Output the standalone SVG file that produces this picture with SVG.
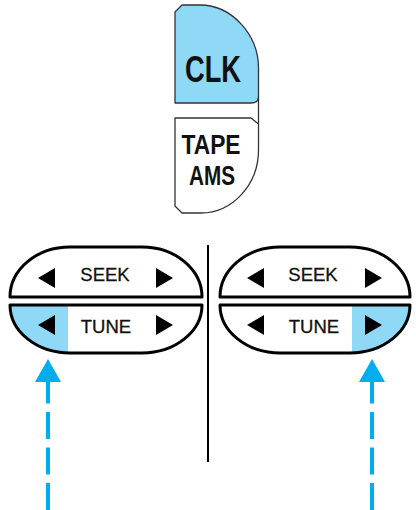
<svg xmlns="http://www.w3.org/2000/svg" width="416" height="510" viewBox="0 0 416 510">
  <style>
    .btn { stroke: #333; stroke-width: 1.3; stroke-linejoin: round; }
    .big { font-family: "Liberation Sans", Arial, sans-serif; font-weight: bold; fill: #111; text-anchor: middle; }
    .lbl { font-family: "Liberation Sans", Arial, sans-serif; font-size: 18.5px; fill: #111; text-anchor: middle; stroke: #111; stroke-width: 0.3; }
    .pan { fill: none; stroke: #000; stroke-width: 3; stroke-linejoin: round; }
    .tri { fill: #000; }
    .blue { fill: #8fd9f6; }
    .dash { stroke: #00aeef; stroke-width: 4; fill: none; stroke-dasharray: 27 8.5; }
  </style>
  <defs>
    <marker id="ah" viewBox="0 0 23 26" refX="0" refY="13" markerWidth="23" markerHeight="26" markerUnits="userSpaceOnUse" orient="auto">
      <path d="M0,0 L23,13 L0,26 Z" fill="#00aeef"/>
    </marker>
    <clipPath id="clipL">
      <path d="M10,305 L202,305 A60 48 0 0 1 142,353 L70,353 A60 48 0 0 1 10,305 Z"/>
    </clipPath>
    <clipPath id="clipR">
      <path d="M220,305 L410,305 A60 48 0 0 1 350,353 L280,353 A60 48 0 0 1 220,305 Z"/>
    </clipPath>
  </defs>

  <g id="clk">
    <path class="btn" fill="#8fd9f6" d="M175,12 L182,5 L200,5 C232,5 258.5,35 258.5,68 L258.5,97 Q258.5,103 251,103 L175,103 Z"/>
    <text class="big" x="213" y="82" font-size="37" textLength="56" lengthAdjust="spacingAndGlyphs">CLK</text>
  </g>
  <line x1="258.5" y1="97" x2="258.5" y2="124" stroke="#333" stroke-width="1.3"/>
  <g id="tape-ams">
    <path class="btn" fill="#fff" d="M175,118 L251,118 L258.5,124 L258.5,150 C258.5,185 232,213 201,213 L182,213 L175,206 Z"/>
    <text class="big" x="211" y="154" font-size="27" textLength="59" lengthAdjust="spacingAndGlyphs">TAPE</text>
    <text class="big" x="212" y="185" font-size="27" textLength="46" lengthAdjust="spacingAndGlyphs">AMS</text>
  </g>

  <g id="left-panel">
    <path d="M10,297 A60 50 0 0 1 70,247 L142,247 A60 50 0 0 1 202,297 Z" fill="#fff"/>
    <path d="M10,305 L202,305 A60 48 0 0 1 142,353 L70,353 A60 48 0 0 1 10,305 Z" fill="#fff"/>
    <rect class="blue" x="0" y="300" width="68" height="60" clip-path="url(#clipL)"/>
    <path class="pan" d="M10,297 A60 50 0 0 1 70,247 L142,247 A60 50 0 0 1 202,297 Z"/>
    <path class="pan" d="M10,305 L202,305 A60 48 0 0 1 142,353 L70,353 A60 48 0 0 1 10,305 Z"/>
    <polygon class="tri" points="38,278 55,268 55,288"/>
    <polygon class="tri" points="173,278 156,268 156,288"/>
    <polygon class="tri" points="38,325 55,315 55,335"/>
    <polygon class="tri" points="173,325 156,315 156,335"/>
    <text class="lbl" x="105" y="281">SEEK</text>
    <text class="lbl" x="106" y="333">TUNE</text>
  </g>

  <g id="right-panel">
    <path d="M220,297 A60 50 0 0 1 280,247 L350,247 A60 50 0 0 1 410,297 Z" fill="#fff"/>
    <path d="M220,305 L410,305 A60 48 0 0 1 350,353 L280,353 A60 48 0 0 1 220,305 Z" fill="#fff"/>
    <rect class="blue" x="352" y="300" width="64" height="60" clip-path="url(#clipR)"/>
    <path class="pan" d="M220,297 A60 50 0 0 1 280,247 L350,247 A60 50 0 0 1 410,297 Z"/>
    <path class="pan" d="M220,305 L410,305 A60 48 0 0 1 350,353 L280,353 A60 48 0 0 1 220,305 Z"/>
    <polygon class="tri" points="247,278 264,268 264,288"/>
    <polygon class="tri" points="382,278 365,268 365,288"/>
    <polygon class="tri" points="247,325 264,315 264,335"/>
    <polygon class="tri" points="382,325 365,315 365,335"/>
    <text class="lbl" x="313" y="281">SEEK</text>
    <text class="lbl" x="314" y="333">TUNE</text>
  </g>

  <line id="divider" x1="208" y1="245" x2="208" y2="462" stroke="#000" stroke-width="2"/>

  <g id="connectors">
    <line class="dash" x1="48" y1="510" x2="48" y2="382" marker-end="url(#ah)"/>
    <line class="dash" x1="372" y1="510" x2="372" y2="382" marker-end="url(#ah)"/>
  </g>
</svg>
